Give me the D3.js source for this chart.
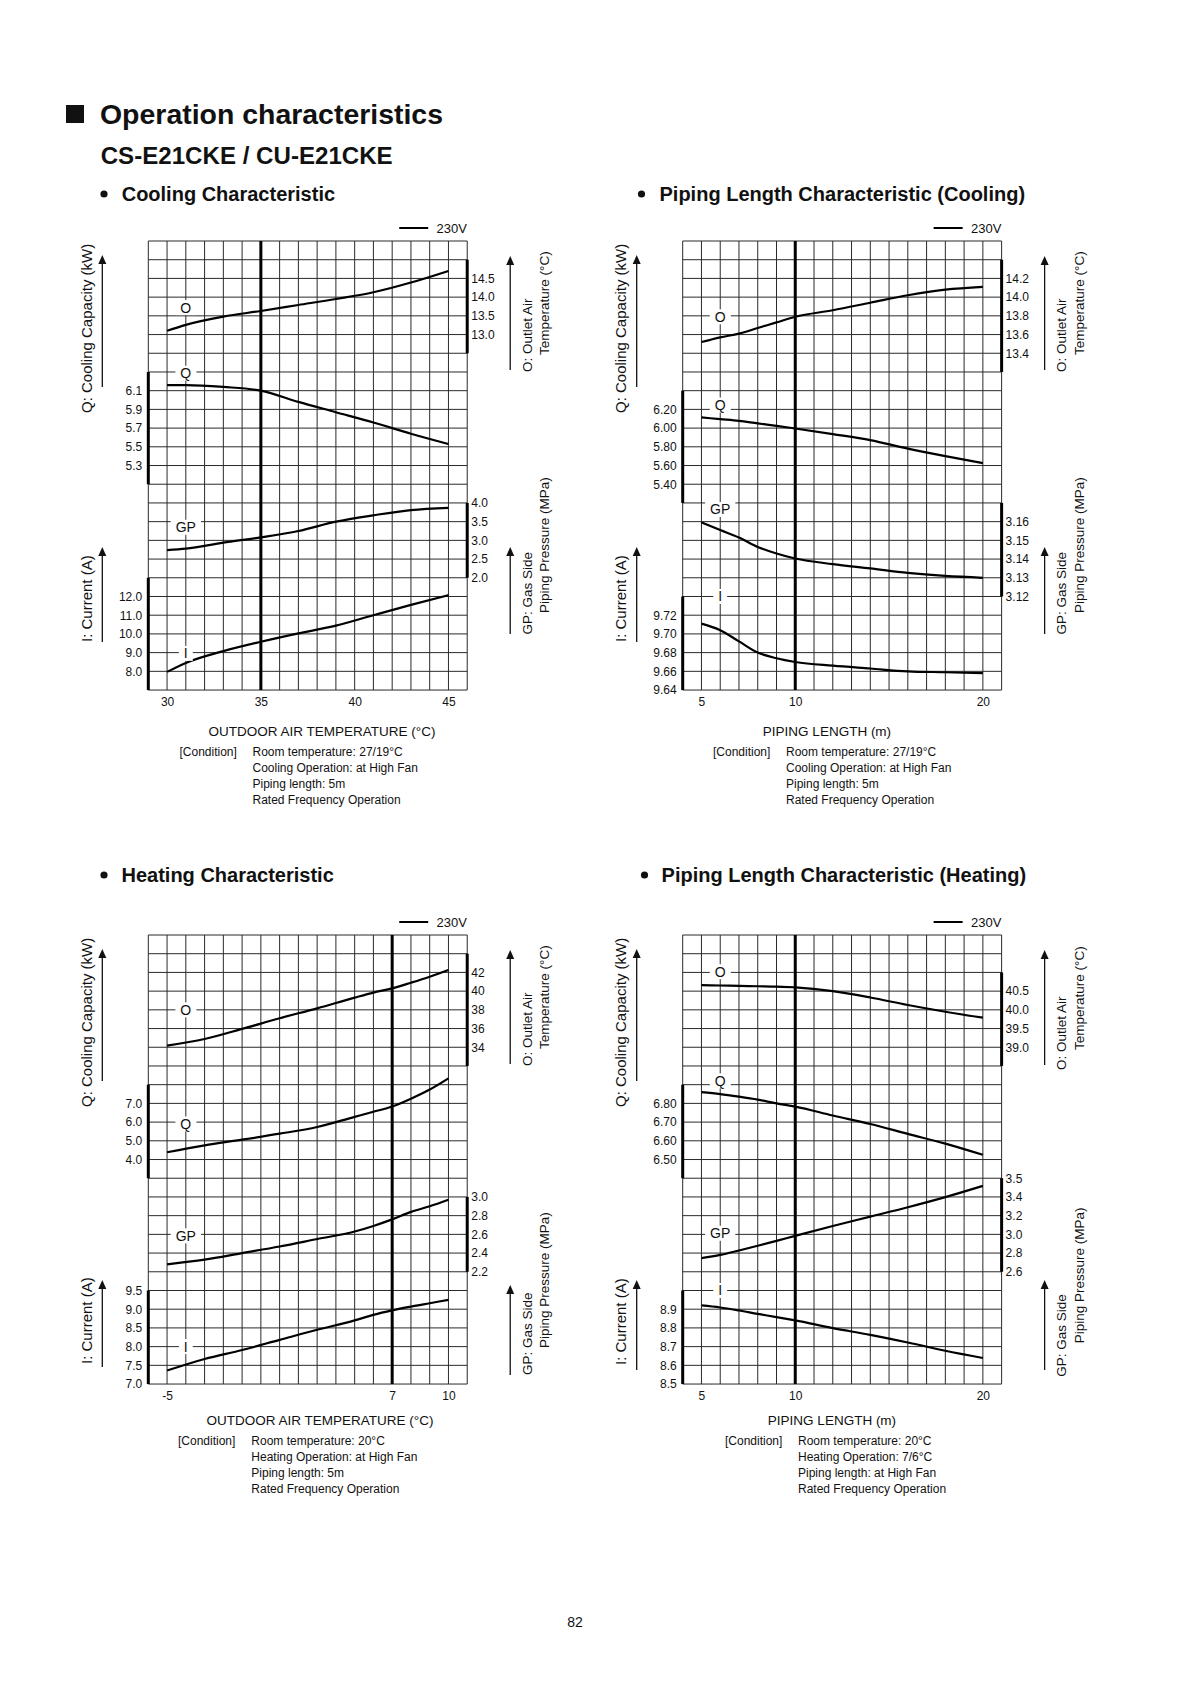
<!DOCTYPE html>
<html><head><meta charset="utf-8">
<script src="https://cdn.jsdelivr.net/npm/d3@7"></script>
<style>
body{margin:0;background:#fff}
svg text{font-family:"Liberation Sans",Arial,Helvetica,sans-serif;fill:#111}
</style>
</head><body>
<svg id="c" width="1190" height="1684"></svg>
<script>
// ---------- DATA ----------
// Cooling characteristic (outdoor air temperature, °C)
const coolX  = [30, 31, 33, 35, 37, 39, 41, 43, 45];
const coolO  = [13.10, 13.26, 13.48, 13.63, 13.79, 13.95, 14.13, 14.39, 14.70];
const coolQ  = [6.16, 6.16, 6.14, 6.10, 5.98, 5.87, 5.76, 5.64, 5.53];
const coolGP = [2.74, 2.78, 2.94, 3.08, 3.25, 3.50, 3.67, 3.81, 3.87];
const coolI  = [7.97, 8.45, 9.08, 9.58, 10.03, 10.44, 11.00, 11.55, 12.07];
const coolXTicks  = [30, 35, 40, 45];
const coolOTicks  = [14.5, 14.0, 13.5, 13.0];
const coolQTicks  = [6.1, 5.9, 5.7, 5.5, 5.3];
const coolGPTicks = [4.0, 3.5, 3.0, 2.5, 2.0];
const coolITicks  = [12.0, 11.0, 10.0, 9.0, 8.0];

// Piping length characteristic (cooling), m
const pipeCX  = [5, 6, 7, 8, 9, 10, 12, 14, 16, 18, 20];
const pipeCO  = [13.52, 13.57, 13.61, 13.67, 13.73, 13.79, 13.86, 13.94, 14.02, 14.08, 14.11];
const pipeCQ  = [6.114, 6.096, 6.078, 6.05, 6.024, 5.996, 5.936, 5.872, 5.78, 5.70, 5.626];
const pipeCGP = [3.1596, 3.1555, 3.1515, 3.1465, 3.143, 3.1403, 3.1373, 3.135, 3.1326, 3.131, 3.130];
const pipeCI  = [9.711, 9.704, 9.692, 9.680, 9.674, 9.670, 9.666, 9.663, 9.660, 9.659, 9.658];
const pipeXTicks   = [5, 10, 20];
const pipeCOTicks  = [14.2, 14.0, 13.8, 13.6, 13.4];
const pipeCQTicks  = [6.20, 6.00, 5.80, 5.60, 5.40];
const pipeCGPTicks = [3.16, 3.15, 3.14, 3.13, 3.12];
const pipeCITicks  = [9.72, 9.70, 9.68, 9.66, 9.64];

// Heating characteristic (outdoor air temperature, °C)
const heatX  = [-5, -3, -1, 1, 3, 5, 6, 7, 8, 9, 10];
const heatO  = [34.18, 34.88, 35.96, 37.10, 38.16, 39.30, 39.84, 40.30, 40.90, 41.54, 42.26];
const heatQ  = [4.39, 4.76, 5.06, 5.38, 5.74, 6.28, 6.55, 6.83, 7.25, 7.74, 8.34];
const heatGP = [2.28, 2.33, 2.40, 2.47, 2.55, 2.63, 2.69, 2.76, 2.84, 2.90, 2.97];
const heatI  = [7.36, 7.67, 7.91, 8.18, 8.45, 8.70, 8.85, 8.97, 9.07, 9.16, 9.25];
const heatXTicks  = [-5, 7, 10];
const heatOTicks  = [42, 40, 38, 36, 34];
const heatQTicks  = [7.0, 6.0, 5.0, 4.0];
const heatGPTicks = [3.0, 2.8, 2.6, 2.4, 2.2];
const heatITicks  = [9.5, 9.0, 8.5, 8.0, 7.5, 7.0];

// Piping length characteristic (heating), m
const pipeHX  = [5, 6, 7, 8, 9, 10, 12, 14, 16, 18, 20];
const pipeHO  = [40.66, 40.65, 40.64, 40.63, 40.62, 40.60, 40.50, 40.33, 40.13, 39.95, 39.79];
const pipeHQ  = [6.86, 6.85, 6.836, 6.82, 6.80, 6.783, 6.735, 6.69, 6.637, 6.585, 6.525];
const pipeHGP = [2.746, 2.78, 2.828, 2.878, 2.93, 2.984, 3.09, 3.19, 3.29, 3.398, 3.518];
const pipeHI  = [8.92, 8.909, 8.893, 8.875, 8.858, 8.84, 8.799, 8.763, 8.722, 8.678, 8.639];
const pipeHOTicks  = [40.5, 40.0, 39.5, 39.0];
const pipeHQTicks  = [6.80, 6.70, 6.60, 6.50];
const pipeHGPTicks = [3.6, 3.4, 3.2, 3.0, 2.8, 2.6];
const pipeHGPLabels = ["3.5", "3.4", "3.2", "3.0", "2.8", "2.6"];
const pipeHITicks  = [8.9, 8.8, 8.7, 8.6, 8.5];

const condCool = ["Room temperature: 27/19°C", "Cooling Operation: at High Fan", "Piping length: 5m", "Rated Frequency Operation"];
const condHeat = ["Room temperature: 20°C", "Heating Operation: at High Fan", "Piping length: 5m", "Rated Frequency Operation"];
const condPipeH = ["Room temperature: 20°C", "Heating Operation: 7/6°C", "Piping length: at High Fan", "Rated Frequency Operation"];

// ---------- LAYOUT ----------
const svg = d3.select('#c');
const CW = 18.76, RH = 18.71, NC = 17, NR = 24;

svg.append('rect').attr('x', 66).attr('y', 105).attr('width', 18).attr('height', 18).attr('fill', '#111');
svg.append('text').attr('x', 100).attr('y', 123.5).attr('font-size', 27.5).attr('font-weight', 'bold')
  .attr('textLength', 343).attr('lengthAdjust', 'spacingAndGlyphs').text('Operation characteristics');
svg.append('text').attr('x', 100.7).attr('y', 164).attr('font-size', 23.5).attr('font-weight', 'bold')
  .attr('textLength', 292).attr('lengthAdjust', 'spacingAndGlyphs').text('CS-E21CKE / CU-E21CKE');

const sections = [
  {t: 'Cooling Characteristic', x: 121.7, y: 201, bx: 104},
  {t: 'Piping Length Characteristic (Cooling)', x: 659.5, y: 201, bx: 641.5},
  {t: 'Heating Characteristic', x: 121.5, y: 882, bx: 104},
  {t: 'Piping Length Characteristic (Heating)', x: 661.6, y: 882, bx: 644.5}
];
sections.forEach(s => {
  svg.append('circle').attr('cx', s.bx).attr('cy', s.y - 7).attr('r', 3.6).attr('fill', '#111');
  svg.append('text').attr('x', s.x).attr('y', s.y).attr('font-size', 20).attr('font-weight', 'bold').text(s.t);
});

svg.append('text').attr('x', 575).attr('y', 1627).attr('text-anchor', 'middle').attr('font-size', 14).text('82');

function rtext(x, y, str, fs) {
  svg.append('text').attr('transform', `translate(${x},${y}) rotate(-90)`)
    .attr('font-size', fs).text(str);
}
function arrow(x, y1, y2) {
  svg.append('line').attr('x1', x).attr('x2', x).attr('y1', y1).attr('y2', y2 + 8)
    .attr('stroke', '#111').attr('stroke-width', 1.3);
  svg.append('path').attr('d', `M${x - 4},${y2 + 9} L${x},${y2} L${x + 4},${y2 + 9} Z`).attr('fill', '#111');
}

function drawChart(c) {
  const g = svg.append('g');
  const W = NC * CW, H = NR * RH;
  const gr = c.gx + W, gb = c.gy + H;
  const x = d3.scaleLinear().domain(c.xd).range([c.gx, gr]);
  const row = d3.scaleLinear().domain([0, NR]).range([c.gy, gb]);

  // grid
  g.selectAll('line.v').data(d3.range(c.xd[0], c.xd[1] + 1)).join('line')
    .attr('x1', d => x(d)).attr('x2', d => x(d)).attr('y1', c.gy).attr('y2', gb)
    .attr('stroke', '#2a2a2a').attr('stroke-width', 1);
  g.selectAll('line.h').data(d3.range(0, NR + 1)).join('line')
    .attr('x1', c.gx).attr('x2', gr).attr('y1', d => row(d)).attr('y2', d => row(d))
    .attr('stroke', '#2a2a2a').attr('stroke-width', 1);
  g.append('line').attr('x1', x(c.thick)).attr('x2', x(c.thick)).attr('y1', c.gy).attr('y2', gb)
    .attr('stroke', '#000').attr('stroke-width', 3);

  // x axis
  const xa = g.append('g').attr('transform', `translate(0,${gb})`)
    .call(d3.axisBottom(x).tickValues(c.xt).tickSize(0).tickPadding(7).tickFormat(d => String(d)));
  xa.select('.domain').remove();
  xa.selectAll('text').attr('font-size', 12).attr('font-family', null);

  const line = d3.line().curve(d3.curveMonotoneX);
  const labelLayer = g.append('g');
  c.series.forEach(s => {
    const n = s.ticks.length;
    const y = d3.scaleLinear().domain([s.ticks[0], s.ticks[n - 1]]).range([row(s.row0), row(s.row0 + n - 1)]);
    const ax = s.side === 'L' ? d3.axisLeft(y) : d3.axisRight(y);
    ax.tickValues(s.ticks).tickSize(0).tickPadding(s.side === 'L' ? 6 : 4)
      .tickFormat((d, i) => s.labels ? s.labels[i] : d3.format(s.fmt)(d));
    const ag = g.append('g').attr('transform', `translate(${s.side === 'L' ? c.gx : gr},0)`).call(ax);
    ag.select('.domain').remove();
    ag.selectAll('text').attr('font-size', 12).attr('font-family', null);
    const bx = s.side === 'L' ? c.gx : gr;
    g.append('line').attr('x1', bx).attr('x2', bx).attr('y1', row(s.bar[0])).attr('y2', row(s.bar[1]))
      .attr('stroke', '#000').attr('stroke-width', 3);
    g.append('path').attr('d', line(s.vals.map((v, i) => [x(c.X[i]), y(v)])))
      .attr('fill', 'none').attr('stroke', '#000').attr('stroke-width', 2.2);
    const lx = x(s.lab[0]), ly = row(s.lab[1]);
    const t = labelLayer.append('text').attr('x', lx).attr('y', ly + 5).attr('text-anchor', 'middle')
      .attr('font-size', 14).text(s.key);
    const bb = t.node().getBBox();
    labelLayer.insert('rect', 'text').attr('x', bb.x - 5).attr('y', ly - 7.5).attr('width', bb.width + 10)
      .attr('height', 15).attr('fill', '#fff');
  });
  labelLayer.raise();

  // legend
  g.append('line').attr('x1', gr - 68).attr('x2', gr - 39).attr('y1', c.gy - 13).attr('y2', c.gy - 13)
    .attr('stroke', '#000').attr('stroke-width', 2);
  g.append('text').attr('x', gr - 30.6).attr('y', c.gy - 8.5).attr('font-size', 13).text('230V');

  // side titles
  const L = c.lab;
  rtext(c.gx - 56.3, c.gy + L.q[0], 'Q: Cooling Capacity (kW)', 15);
  arrow(c.gx - 46, c.gy + L.qa[0], c.gy + L.qa[1]);
  rtext(c.gx - 56.3, c.gy + L.i[0], 'I: Current (A)', 15);
  arrow(c.gx - 46, c.gy + L.ia[0], c.gy + L.ia[1]);
  arrow(gr + 43, c.gy + L.oa[0], c.gy + L.oa[1]);
  rtext(gr + 64.5, c.gy + L.o[0], 'O: Outlet Air', 13.5);
  rtext(gr + 82, c.gy + L.o[1], 'Temperature (°C)', 13.5);
  arrow(gr + 43, c.gy + L.ga[0], c.gy + L.ga[1]);
  rtext(gr + 64.5, c.gy + L.g[0], 'GP: Gas Side', 13.5);
  rtext(gr + 82, c.gy + L.g[1], 'Piping Pressure (MPa)', 13.5);

  // x title + conditions
  svg.append('text').attr('x', c.tx).attr('y', c.ty).attr('text-anchor', 'middle').attr('font-size', 13.5).text(c.xTitle);
  svg.append('text').attr('x', c.cx0).attr('y', c.ty + 20).attr('font-size', 12).text('[Condition]');
  c.cond.forEach((s, i) => {
    svg.append('text').attr('x', c.cx1).attr('y', c.ty + 20 + i * 16.3).attr('font-size', 12).text(s);
  });
}

const labTop = {q: [172, 0], qa: [146, 14], i: [401, 0], ia: [401, 306], oa: [129, 15], o: [131, 114], ga: [393, 306], g: [393.5, 372]};
const labH3 = {q: [172, 0], qa: [146, 14], i: [429, 0], ia: [432, 345], oa: [129, 15], o: [131, 114], ga: [440, 350], g: [440, 413]};
const labH4 = {q: [172, 0], qa: [146, 14], i: [430, 0], ia: [435, 345], oa: [130, 15], o: [135, 115], ga: [435, 345], g: [441.7, 408.3]};

drawChart({gx: 148.3, gy: 241, xd: [29, 46], thick: 35, xt: coolXTicks, X: coolX,
  xTitle: 'OUTDOOR AIR TEMPERATURE (°C)', tx: 322, ty: 735.5, cx0: 179.5, cx1: 252.5, cond: condCool, lab: labTop,
  series: [
    {key: 'O', vals: coolO, side: 'R', bar: [1, 6], ticks: coolOTicks, row0: 2, fmt: '.1f', lab: [31, 3.56]},
    {key: 'Q', vals: coolQ, side: 'L', bar: [7, 13], ticks: coolQTicks, row0: 8, fmt: '.1f', lab: [31, 7.07]},
    {key: 'GP', vals: coolGP, side: 'R', bar: [14, 18], ticks: coolGPTicks, row0: 14, fmt: '.1f', lab: [31, 15.3]},
    {key: 'I', vals: coolI, side: 'L', bar: [18, 24], ticks: coolITicks, row0: 19, fmt: '.1f', lab: [31, 22.04]}
  ]});

drawChart({gx: 682.7, gy: 241, xd: [4, 21], thick: 10, xt: pipeXTicks, X: pipeCX,
  xTitle: 'PIPING LENGTH (m)', tx: 827, ty: 735.5, cx0: 713, cx1: 786, cond: condCool, lab: labTop,
  series: [
    {key: 'O', vals: pipeCO, side: 'R', bar: [1, 7], ticks: pipeCOTicks, row0: 2, fmt: '.1f', lab: [6, 4.05]},
    {key: 'Q', vals: pipeCQ, side: 'L', bar: [8, 14], ticks: pipeCQTicks, row0: 9, fmt: '.2f', lab: [6, 8.77]},
    {key: 'GP', vals: pipeCGP, side: 'R', bar: [14, 19], ticks: pipeCGPTicks, row0: 15, fmt: '.2f', lab: [6, 14.35]},
    {key: 'I', vals: pipeCI, side: 'L', bar: [19, 24], ticks: pipeCITicks, row0: 20, fmt: '.2f', lab: [6, 19]}
  ]});

drawChart({gx: 148.3, gy: 935, xd: [-6, 11], thick: 7, xt: heatXTicks, X: heatX,
  xTitle: 'OUTDOOR AIR TEMPERATURE (°C)', tx: 320, ty: 1424.5, cx0: 178, cx1: 251.3, cond: condHeat, lab: labH3,
  series: [
    {key: 'O', vals: heatO, side: 'R', bar: [1, 7], ticks: heatOTicks, row0: 2, fmt: 'd', lab: [-4, 4.0]},
    {key: 'Q', vals: heatQ, side: 'L', bar: [8, 13], ticks: heatQTicks, row0: 9, fmt: '.1f', lab: [-4, 10.1]},
    {key: 'GP', vals: heatGP, side: 'R', bar: [14, 18], ticks: heatGPTicks, row0: 14, fmt: '.1f', lab: [-4, 16.08]},
    {key: 'I', vals: heatI, side: 'L', bar: [19, 24], ticks: heatITicks, row0: 19, fmt: '.1f', lab: [-4, 22]}
  ]});

drawChart({gx: 682.7, gy: 935, xd: [4, 21], thick: 10, xt: pipeXTicks, X: pipeHX,
  xTitle: 'PIPING LENGTH (m)', tx: 832, ty: 1424.5, cx0: 725, cx1: 798, cond: condPipeH, lab: labH4,
  series: [
    {key: 'O', vals: pipeHO, side: 'R', bar: [2, 7], ticks: pipeHOTicks, row0: 3, fmt: '.1f', lab: [6, 1.96]},
    {key: 'Q', vals: pipeHQ, side: 'L', bar: [8, 13], ticks: pipeHQTicks, row0: 9, fmt: '.2f', lab: [6, 7.8]},
    {key: 'GP', vals: pipeHGP, side: 'R', bar: [13, 18], ticks: pipeHGPTicks, labels: pipeHGPLabels, row0: 13, fmt: '.1f', lab: [6, 15.94]},
    {key: 'I', vals: pipeHI, side: 'L', bar: [19, 24], ticks: pipeHITicks, row0: 20, fmt: '.1f', lab: [6, 19]}
  ]});
</script>
</body></html>
